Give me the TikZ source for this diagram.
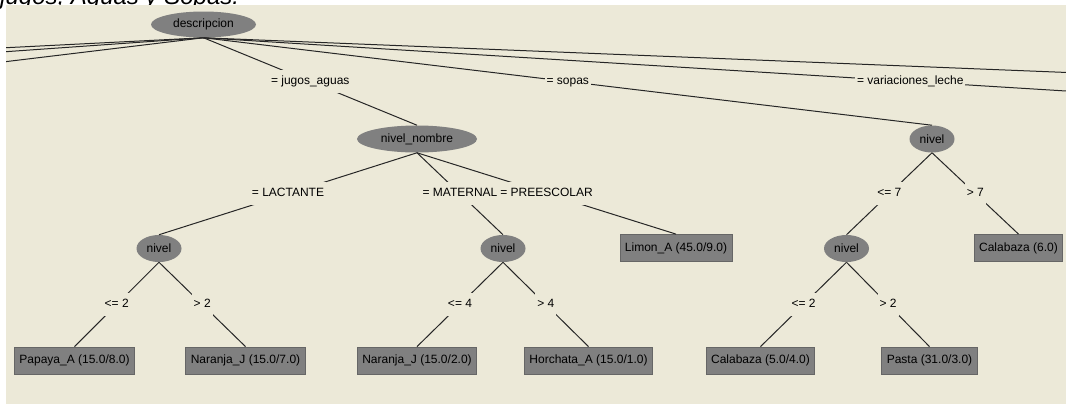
\documentclass[tikz,border=0pt]{standalone}
\usepackage{fontspec}
\setmainfont{Liberation Sans}
\usetikzlibrary{shapes.geometric}
\definecolor{panel}{HTML}{ECE9D8}
\definecolor{nodegray}{HTML}{808080}
\definecolor{nodeline}{HTML}{666666}
\begin{document}
\begin{tikzpicture}[
    x=0.75pt, y=-0.75pt,
    edge/.style={draw=black!85, line width=0.75pt},
    attr/.style={ellipse, fill=nodegray, inner sep=0pt, minimum height=20.25pt, font=\fontsize{9}{10}\selectfont},
    leaf/.style={rectangle, fill=nodegray, draw=nodeline, line width=0.6pt, inner xsep=3.75pt, inner ysep=0pt, minimum height=20.25pt, font=\fontsize{9}{10}\selectfont},
    cond/.style={fill=panel, inner xsep=1.5pt, inner ysep=0pt, minimum height=17.25pt, text height=6.5pt, text depth=1.9pt, font=\fontsize{9}{10}\selectfont},
  ]
    \useasboundingbox (0,0) rectangle (1066,404);
    % cut caption above the screenshot, then the panel
    \node[anchor=base west, inner sep=0pt, font=\fontsize{18}{20}\selectfont\itshape] (caption) at (0,4.5) {jugos, Aguas y Sopas.};
    \fill[panel] (6,5) rectangle (1066,404);
    % split nodes
    \node[attr, minimum width=78.75pt, minimum height=19.5pt] (root) at (203.5,24.5) {descripcion};
    \node[attr, minimum width=90pt] (nn) at (417,139) {nivel\_nombre};
    \node[attr, minimum width=33.75pt] (nivR) at (932,139) {nivel};
    \node[attr, minimum width=33.75pt] (nivA) at (159,248.5) {nivel};
    \node[attr, minimum width=33.75pt] (nivB) at (503,248.5) {nivel};
    \node[attr, minimum width=33.75pt] (nivC) at (846.5,248.5) {nivel};
    % leaves
    \node[leaf] (limon) at (676,248) {Limon\_A (45.0/9.0)};
    \node[leaf] (cal6) at (1018.5,248) {Calabaza (6.0)};
    \node[leaf] (papaya) at (74.5,360.5) {Papaya\_A (15.0/8.0)};
    \node[leaf] (naranja7) at (245.5,360.5) {Naranja\_J (15.0/7.0)};
    \node[leaf] (naranja2) at (417,360.5) {Naranja\_J (15.0/2.0)};
    \node[leaf] (horchata) at (588.5,360.5) {Horchata\_A (15.0/1.0)};
    \node[leaf] (cal5) at (760.5,360.5) {Calabaza (5.0/4.0)};
    \node[leaf] (pasta) at (929.5,360.5) {Pasta (31.0/3.0)};
    % root branches that run off the panel
    \begin{scope}
      \clip (6,5) rectangle (1066,404);
      \foreach \n/\x in {offA/-1530, offB/-1035, offC/-519, offD/2373} {
        \coordinate (\n) at (\x,125);
        \draw[edge] (root.south) -- (\n);
      }
      \coordinate (offV) at (1617,125);
      \draw[edge] (root.south) -- node[cond] (lVar) {= variaciones\_leche} (offV);
    \end{scope}
    % branches with their test labels
    \draw[edge] (root.south) -- node[cond] (lJug) {= jugos\_aguas} (nn.north);
    \draw[edge] (root.south) -- node[cond] (lSop) {= sopas} (nivR.north);
    \draw[edge] (nn.south) -- node[cond] (lLac) {= LACTANTE} (nivA.north);
    \draw[edge] (nn.south) -- node[cond] (lMat) {= MATERNAL} (nivB.north);
    \draw[edge] (nn.south) -- node[cond] (lPre) {= PREESCOLAR} (limon.north);
    \draw[edge] (nivR.south) -- node[cond] (lLe7) {<= 7} (nivC.north);
    \draw[edge] (nivR.south) -- node[cond] (lGt7) {> 7} (cal6.north);
    \draw[edge] (nivA.south) -- node[cond] (lLe2a) {<= 2} (papaya.north);
    \draw[edge] (nivA.south) -- node[cond] (lGt2a) {> 2} (naranja7.north);
    \draw[edge] (nivB.south) -- node[cond] (lLe4) {<= 4} (naranja2.north);
    \draw[edge] (nivB.south) -- node[cond] (lGt4) {> 4} (horchata.north);
    \draw[edge] (nivC.south) -- node[cond] (lLe2c) {<= 2} (cal5.north);
    \draw[edge] (nivC.south) -- node[cond] (lGt2c) {> 2} (pasta.north);
\end{tikzpicture}
\end{document}
